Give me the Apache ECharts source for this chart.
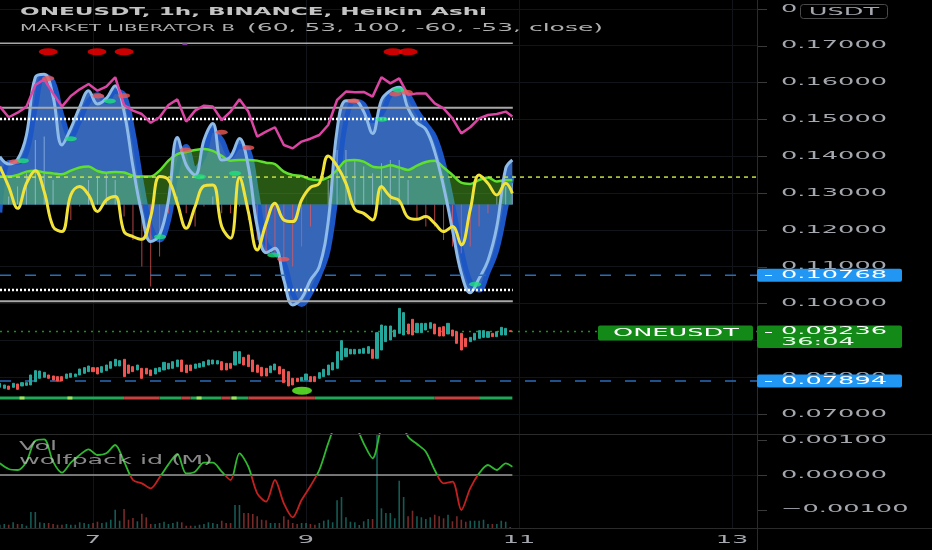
<!DOCTYPE html>
<html>
<head>
<meta charset="utf-8">
<title>ONEUSDT 1h</title>
<script src="https://cdn.jsdelivr.net/npm/echarts@6.0.0/dist/echarts.min.js"></script>
<style>
html,body{margin:0;padding:0;background:#000;overflow:hidden;}
#chart{width:932px;height:550px;}
</style>
</head>
<body>
<div id="chart"></div>
<script>
// ================= DATA =================
// hourly Heikin Ashi candles, first one at hour -21 (hours counted from day 7, 00:00)
const candleStartHour = -21;
const haOpen = [0.07724,0.07697,0.07760,0.07724,0.07815,0.07760,0.07778,0.07788,0.07878,0.07968,
  0.07996,0.08059,0.08032,0.08014,0.08014,0.07968,0.07996,0.08014,0.08059,0.08104,
  0.08149,0.08258,0.08258,0.08131,0.08176,0.08240,0.08303,0.08303,0.08484,0.08330,
  0.08285,0.08195,0.08240,0.08240,0.08195,0.08086,0.08149,0.08195,0.08222,0.08240,
  0.08285,0.08466,0.08330,0.08330,0.08240,0.08267,0.08285,0.08330,0.08357,0.08357,
  0.08420,0.08375,0.08375,0.08330,0.08375,0.08538,0.08602,0.08466,0.08330,0.08267,
  0.08240,0.08122,0.08195,0.08285,0.08213,0.08149,0.07968,0.07968,0.07905,0.07923,
  0.08014,0.08014,0.07968,0.08014,0.08059,0.08195,0.08240,0.08466,0.08556,0.08629,
  0.08629,0.08647,0.08647,0.08647,0.08755,0.08511,0.08737,0.08963,0.09009,0.09099,
  0.09190,0.09144,0.09443,0.09570,0.09208,0.09208,0.09280,0.09325,0.09443,0.09353,
  0.09371,0.09172,0.09280,0.09235,0.09190,0.09054,0.08963,0.09009,0.09054,0.09081,
  0.09081,0.09190,0.09099,0.09144,0.09144,0.09262];
const haClose = [0.07833,0.07788,0.07670,0.07833,0.07670,0.07851,0.07851,0.08059,0.08176,0.08167,
  0.08131,0.07968,0.07923,0.07896,0.07896,0.08086,0.08104,0.08086,0.08222,0.08258,
  0.08303,0.08149,0.08086,0.08285,0.08330,0.08420,0.08484,0.08448,0.08014,0.08104,
  0.08149,0.08330,0.07968,0.08086,0.08041,0.08240,0.08258,0.08402,0.08375,0.08420,
  0.08466,0.08149,0.08122,0.08176,0.08357,0.08375,0.08420,0.08466,0.08466,0.08448,
  0.08195,0.08195,0.08240,0.08692,0.08692,0.08330,0.08285,0.08149,0.08131,0.08032,
  0.08032,0.08303,0.08357,0.08086,0.07851,0.07760,0.07788,0.07878,0.07996,0.08086,
  0.07878,0.07878,0.08122,0.08213,0.08330,0.08394,0.08692,0.08991,0.08783,0.08755,
  0.08755,0.08755,0.08783,0.08828,0.08511,0.09208,0.09416,0.09389,0.09389,0.09280,
  0.09868,0.09751,0.09172,0.09144,0.09461,0.09461,0.09461,0.09479,0.09172,0.09117,
  0.09117,0.09461,0.09117,0.08918,0.08737,0.08828,0.09081,0.09190,0.09262,0.09262,
  0.09235,0.09099,0.09235,0.09353,0.09325,0.09236];
const volume = [33,40,33,57,40,40,23,160,160,57,50,50,40,33,33,40,33,33,57,50,
  40,50,63,50,57,83,183,73,190,83,100,67,143,107,40,40,50,63,40,50,
  63,57,23,23,23,33,40,57,50,40,73,50,50,230,230,150,150,140,117,83,
  77,50,50,50,117,83,50,40,50,50,40,33,50,73,83,57,277,310,107,63,
  57,30,67,90,90,933,197,150,150,97,473,310,117,173,117,107,90,107,133,117,
  97,133,67,117,83,63,73,73,73,83,40,40,40,73,63,10];

// indicator samples every 2 hours from hour -21, plus a last sample at hour 94.5
const sampleStartHour = -21;
const sampleStepHours = 2;
const lastSampleHour = 94.5;
const liberatorPink = [60.7,54.1,56.9,60.7,74.1,77.6,68.9,60.7,67.3,71.4,74.7,70.6,73.1,78.9,61.7,58.2,56.1,50.7,54.1,61.7,
  65.2,51.4,58.2,61.3,60.7,52.4,57.6,65.2,57.6,42.1,45.2,47.9,36.9,34.8,39.0,40.8,43.1,49.3,64.8,70.0,
  69.6,69.8,66.9,78.9,75.1,78.2,67.9,68.9,68.9,62.7,59.6,53.4,44.1,47.9,53.4,55.5,56.1,57.6,54.5];
const liberatorYellow = [23.5,11.1,-2.4,13.1,21.0,8.0,-13.7,-16.8,5.9,11.1,5.9,-4.4,2.8,4.9,-16.8,-19.9,-21.6,-7.5,17.3,15.2,
  0.7,-14.8,-1.3,11.5,12.1,-13.7,-21.0,16.8,-4.4,-28.2,-11.7,0.7,-9.6,-10.6,2.8,10.6,13.1,30.1,23.9,13.1,
  -3.0,-5.5,-9.6,11.1,4.9,2.4,-8.0,-9.2,-7.5,-11.7,-16.8,-13.7,-25.1,-3.4,18.3,13.1,5.9,13.1,6.9];
const liberatorGreen = [17.3,17.3,18.3,20.4,21.0,19.9,19.3,18.7,21.0,23.0,23.5,20.8,19.7,20.2,19.9,17.9,17.3,17.3,21.0,27.2,
  31.3,32.6,33.8,34.4,33.2,30.1,27.2,27.6,27.6,27.2,25.9,25.1,20.4,18.3,17.7,15.6,15.2,16.8,21.4,27.2,
  27.6,26.6,23.5,23.0,24.3,23.0,21.4,24.1,26.4,27.2,23.0,18.3,13.5,12.7,15.2,16.8,14.2,15.2,15.2];
const liberatorLightBlue = [29.7,25.1,28.0,43.1,78.9,80.7,66.9,36.9,47.2,60.3,70.6,62.3,65.8,73.7,57.6,23.5,-5.5,-23.0,-18.9,2.8,
  41.6,24.5,18.3,40.0,50.3,27.6,29.7,41.0,23.5,-13.7,-29.9,-27.2,-46.8,-62.3,-58.2,-46.8,-38.5,-10.6,46.2,64.4,
  64.4,57.6,44.1,64.8,70.6,72.7,59.6,50.7,46.6,32.8,11.1,-15.8,-42.7,-54.7,-45.8,-34.8,-13.7,22.4,27.6];
const liberatorDarkBlue = [-5,26,26,32,60,80,76,55,42,52,64,68,64,70,68,45,12,-14,-22,-10,
  22,36,22,30,46,40,30,36,34,5,-24,-30,-36,-55,-62,-55,-44,-28,10,52,
  64,62,52,56,68,72,68,58,50,42,25,0,-28,-48,-53,-42,-28,-2,18];
const liberatorHistogram = [0,4.9,11.1,19.3,40.0,42.1,15.2,0,-9.6,-1.3,15.2,17.3,19.3,15.2,-7.5,-22.0,-38.5,-50.9,-32.3,-5.5,
  4.9,-5.5,-13.7,-1.3,4.9,-5.5,-5.5,-1.3,-9.6,-22.0,-30.3,-30.3,-34.4,-38.5,-26.1,-13.7,0,15.2,33.8,33.8,
  27.6,23.5,19.3,25.5,27.6,27.6,15.2,-9.6,-13.7,-13.7,-22.0,-26.1,-30.3,-26.1,-13.7,-5.5,4.9,11.1,13.1];
const wolfpack = [0.000338,0.000174,0.000145,0.000386,0.000995,0.001034,0.000386,0.000068,0.000357,0.000580,
  0.000744,0.000580,0.000628,0.000870,0.000386,-0.000145,-0.000242,-0.000386,-0.000068,0.000309,
  0.000609,0.000048,0.000097,0.000357,0.000357,0.000097,-0.000145,0.000628,0.000242,-0.000531,
  -0.000773,-0.000145,-0.000821,-0.001227,-0.000725,-0.000319,0.000145,0.000918,0.001594,0.001884,
  0.001498,0.000918,0.000483,0.001401,0.001981,0.001691,0.001111,0.000899,0.000676,0.000145,
  -0.000242,-0.000193,-0.001014,-0.000386,0.000048,0.000290,0.000145,0.000338,0.000242];

const levelsGray = [100, 60, -60];
const levelsDotted = [53, -53];
const levelDashed = 17;
const levelEndHour = 94.6;

const smallRedDots = [[-17.6,26.5],[-10.1,78.2],[1.2,67.3],[7.0,67.5],[20.9,33.8],[29.0,44.8],[35.0,35.2],[42.9,-34.0],[58.7,64.2],[68.1,68.5],[70.7,69.6]];
const smallGreenDots = [[-15.8,27.2],[-5.0,40.8],[3.8,64.2],[15.1,-20.0],[24.1,17.2],[32.0,19.3],[40.6,-31.3],[65.1,52.8],[68.8,71.0],[86.1,-49.5]];
const bigRedDots = [[-10.1,94.7],[0.9,94.7],[7.0,94.7],[67.6,94.7],[71.0,94.7]];
const purpleMarks = [[20.7,99.5]];

const statusRuns = [[-21,7,1],[7,15,-1],[15,20,1],[20,22,-1],[22,29,1],[29,31,-1],[31,35,1],[35,50,-1],[50,77,1],[77,87,-1],[87,94.5,1]];
const statusLevel = 0.07434;
const statusDotHours = [-16, -5.2, 23.9, 31.8];
const signalDot = [[47.1, 0.07633]];

const lastPrice = 0.09236;
const priceLevels = [0.10768, 0.07894];
const symbolName = 'ONEUSDT';
const countdown = '36:04';

const priceTicks = [0.18,0.17,0.16,0.15,0.14,0.13,0.12,0.11,0.10,0.09,0.08,0.07];
const oscTicks = [0.001, 0, -0.001];
const dayTickHours = [0, 48, 96, 144];
const dayTickLabels = ['7', '9', '11', '13'];
const titleLine = 'ONEUSDT, 1h, BINANCE, Heikin Ashi';
const indicatorName = 'MARKET LIBERATOR B';
const indicatorParams = '(60, 53, 100, -60, -53, close)';
const paneTexts = ['Vol', 'wolfpack id (M)'];
const currencyText = 'USDT';

// ================= LAYOUT =================
const X_MIN = -20.96, X_MAX = 149.63;
const PRICE_MIN = 0.06457, PRICE_MAX = 0.18238;
const IND_MIN = -142.3, IND_MAX = 126.8;
const OSC_MIN = -0.0015362, OSC_MAX = 0.0011884;
const VOL_MAX = 940;
const UP = '#26a69a', DOWN = '#ef5350';
const PANE2_TOP = 434, PANE2_H = 94;

function sampleHour(k, n) { return k === n - 1 ? lastSampleHour : sampleStartHour + sampleStepHours * k; }
function samples(arr) { return arr.map((v, k) => [sampleHour(k, arr.length), v]); }

const candles = haOpen.map((o, i) => {
  const c = haClose[i];
  return [candleStartHour + i, o, c, Math.min(o, c), Math.max(o, c)];
});
const volData = volume.map((v, i) => ({
  value: [candleStartHour + i, v],
  itemStyle: { color: haClose[i] >= haOpen[i] ? 'rgba(38,166,154,0.55)' : 'rgba(239,83,80,0.5)' }
}));
const histData = samples(liberatorHistogram).map(p => ({
  value: p,
  itemStyle: { color: p[1] >= 0 ? 'rgba(190,215,255,0.55)' : 'rgba(235,90,90,0.75)' }
}));

function levelLine(xIdx, yIdx, v, x0, x1, color, width, type, z) {
  return { type: 'line', xAxisIndex: xIdx, yAxisIndex: yIdx, data: [[x0, v], [x1, v]], symbol: 'none',
    silent: true, z: z, lineStyle: { color: color, width: width, type: type } };
}

const zeroFrac = (OSC_MAX - 0) / (OSC_MAX - OSC_MIN);
const wolfGradient = new echarts.graphic.LinearGradient(0, PANE2_TOP, 0, PANE2_TOP + PANE2_H, [
  { offset: 0, color: '#2fb82f' }, { offset: zeroFrac, color: '#2fb82f' },
  { offset: zeroFrac, color: '#c42020' }, { offset: 1, color: '#c42020' }
], true);

const series = [];
series.push({ type: 'line', xAxisIndex: 0, yAxisIndex: 0, data: [], silent: true,
  markLine: { silent: true, symbol: ['none', 'none'], z: 1, label: { show: false },
    lineStyle: { color: '#111418', width: 1, type: 'solid' },
    data: priceTicks.map(v => ({ yAxis: v })).concat(dayTickHours.map(h => ({ xAxis: h }))) } });
series.push({ type: 'line', xAxisIndex: 1, yAxisIndex: 2, data: [], silent: true,
  markLine: { silent: true, symbol: ['none', 'none'], z: 1, label: { show: false },
    lineStyle: { color: '#111418', width: 1, type: 'solid' },
    data: oscTicks.map(v => ({ yAxis: v })).concat(dayTickHours.map(h => ({ xAxis: h }))) } });
series.push({ type: 'line', xAxisIndex: 0, yAxisIndex: 1, data: samples(liberatorLightBlue), smooth: 0.4, symbol: 'none', silent: true, z: 2,
  lineStyle: { width: 0 }, areaStyle: { color: '#3566b8', opacity: 1 } });
series.push({ type: 'line', xAxisIndex: 0, yAxisIndex: 1, data: samples(liberatorDarkBlue), smooth: 0.4, symbol: 'none', silent: true, z: 2,
  lineStyle: { color: '#1d57c6', width: 5 }, areaStyle: { color: '#3566b8', opacity: 1 } });
series.push({ type: 'line', xAxisIndex: 0, yAxisIndex: 1, data: samples(liberatorGreen), smooth: 0.3, symbol: 'none', silent: true, z: 3,
  lineStyle: { color: '#5fe02c', width: 2.5 }, areaStyle: { color: 'rgba(95,205,45,0.42)', opacity: 1 } });
series.push({ type: 'bar', xAxisIndex: 0, yAxisIndex: 1, data: histData, barWidth: 1, silent: true, z: 3 });
series.push({ type: 'line', xAxisIndex: 0, yAxisIndex: 1, data: samples(liberatorLightBlue), smooth: 0.4, symbol: 'none', silent: true, z: 4,
  lineStyle: { color: '#8fbbe8', width: 3 } });
levelsGray.forEach(v => series.push(levelLine(0, 1, v, X_MIN, levelEndHour, '#a8a8a8', v === 100 ? 1.5 : 2, 'solid', 4)));
levelsDotted.forEach(v => series.push(levelLine(0, 1, v, X_MIN, levelEndHour, '#ffffff', 2.5, [2, 2], 4)));
series.push(levelLine(0, 1, levelDashed, X_MIN, X_MAX, '#c8e040', 1.5, [4, 4], 4));
series.push({ type: 'line', xAxisIndex: 0, yAxisIndex: 1, data: samples(liberatorPink), symbol: 'none', silent: true, z: 5,
  lineStyle: { color: '#db45a3', width: 2.5 } });
series.push({ type: 'line', xAxisIndex: 0, yAxisIndex: 1, data: samples(liberatorYellow), smooth: 0.4, symbol: 'none', silent: true, z: 5,
  lineStyle: { color: '#f2e33a', width: 3 } });
series.push({ type: 'scatter', xAxisIndex: 0, yAxisIndex: 1, data: smallRedDots, symbol: 'circle', symbolSize: [12, 5], silent: true, z: 6,
  itemStyle: { color: '#f05a55' } });
series.push({ type: 'scatter', xAxisIndex: 0, yAxisIndex: 1, data: smallGreenDots, symbol: 'circle', symbolSize: [12, 5], silent: true, z: 6,
  itemStyle: { color: '#1fe07a' } });
series.push({ type: 'scatter', xAxisIndex: 0, yAxisIndex: 1, data: bigRedDots, symbol: 'circle', symbolSize: [19, 7], silent: true, z: 6,
  itemStyle: { color: '#ff0000' } });
series.push({ type: 'scatter', xAxisIndex: 0, yAxisIndex: 1, data: purpleMarks, symbol: 'rect', symbolSize: [5, 2], silent: true, z: 6,
  itemStyle: { color: '#9c3fc0' } });
series.push(levelLine(0, 0, priceLevels[0], X_MIN, X_MAX, '#2b6cb8', 1.5, [11, 14], 4));
series.push(levelLine(0, 0, priceLevels[1], X_MIN, X_MAX, '#2b6cb8', 1.5, [11, 14], 4));
series.push(levelLine(0, 0, lastPrice, X_MIN, X_MAX, '#1a8f1a', 1.5, [2, 5], 4));
series.push({ type: 'candlestick', xAxisIndex: 0, yAxisIndex: 0, data: candles, encode: { x: 0, y: [1, 2, 3, 4] },
  barWidth: 2.6, silent: true, z: 5,
  itemStyle: { color: UP, color0: DOWN, borderColor: UP, borderColor0: DOWN, borderWidth: 1 } });
series.push({ type: 'custom', xAxisIndex: 0, yAxisIndex: 0, silent: true, z: 5,
  data: statusRuns.map(r => [r[0], r[1], statusLevel, r[2]]),
  encode: { x: [0, 1], y: 2 },
  renderItem: function (params, api) {
    const a = api.coord([api.value(0), api.value(2)]);
    const b = api.coord([api.value(1), api.value(2)]);
    return { type: 'rect', shape: { x: a[0], y: a[1] - 1.5, width: b[0] - a[0], height: 3 },
      style: { fill: api.value(3) > 0 ? '#1fa855' : '#c9413f' } };
  } });
series.push({ type: 'scatter', xAxisIndex: 0, yAxisIndex: 0, data: statusDotHours.map(h => [h, statusLevel]),
  symbol: 'rect', symbolSize: [5, 3], silent: true, z: 6, itemStyle: { color: '#c8f060' } });
series.push({ type: 'scatter', xAxisIndex: 0, yAxisIndex: 0, data: signalDot, symbol: 'circle', symbolSize: [20, 8], silent: true, z: 6,
  itemStyle: { color: '#66ff2e' } });
series.push({ type: 'bar', xAxisIndex: 1, yAxisIndex: 3, data: volData, barWidth: 1.6, silent: true, z: 2 });
series.push(levelLine(1, 2, 0, X_MIN, lastSampleHour, '#9a9a9a', 1.5, 'solid', 3));
series.push({ type: 'line', xAxisIndex: 1, yAxisIndex: 2, data: samples(wolfpack), smooth: 0.3, symbol: 'none', silent: true, z: 4,
  lineStyle: { width: 1.8, color: wolfGradient } });

const option = {
  backgroundColor: '#000',
  animation: false,
  grid: [
    { left: 0, top: 0, width: 757, height: 434, show: false },
    { left: 0, top: PANE2_TOP, width: 757, height: PANE2_H, show: false }
  ],
  xAxis: [
    { type: 'value', gridIndex: 0, min: X_MIN, max: X_MAX, show: false },
    { type: 'value', gridIndex: 1, min: X_MIN, max: X_MAX, show: false }
  ],
  yAxis: [
    { type: 'value', gridIndex: 0, min: PRICE_MIN, max: PRICE_MAX, show: false },
    { type: 'value', gridIndex: 0, min: IND_MIN, max: IND_MAX, show: false },
    { type: 'value', gridIndex: 1, min: OSC_MIN, max: OSC_MAX, show: false },
    { type: 'value', gridIndex: 1, min: 0, max: VOL_MAX, show: false }
  ],
  series: series
};

const chart = echarts.init(document.getElementById('chart'), null, { renderer: 'canvas' });
chart.setOption(option);

// ================= TEXT / AXIS DECORATION =================
const mctx = document.createElement('canvas').getContext('2d');
function textW(str, font) { mctx.font = font; return mctx.measureText(str).width; }
function sText(str, font, fill, left, cy, scaleX, z) {
  return { type: 'text', x: left, y: cy, scaleX: scaleX, scaleY: 1, z: z || 100, silent: true,
    style: { text: str, font: font, fill: fill, x: 0, y: 0, align: 'left', verticalAlign: 'middle', textAlign: 'left', textVerticalAlign: 'middle' } };
}
function hLine(x1, y, x2, color, z) {
  return { type: 'line', silent: true, z: z || 90, shape: { x1: x1, y1: y, x2: x2, y2: y }, style: { stroke: color, lineWidth: 1 } };
}
const AX_FONT = "10.5px 'DejaVu Sans'";
const axScale = 106 / textW('0.17000', AX_FONT);
const AX_COLOR = '#a4a7ae';
const AX_X = 781;
const g = [];

g.push(hLine(0, 434.5, 932, '#2b2b2b', 95));
g.push(hLine(0, 528.5, 932, '#2b2b2b', 95));
g.push({ type: 'line', silent: true, z: 95, shape: { x1: 757.5, y1: 0, x2: 757.5, y2: 550 }, style: { stroke: '#2b2b2b', lineWidth: 1 } });

priceTicks.forEach(v => {
  const y = chart.convertToPixel({ yAxisIndex: 0 }, v);
  g.push(hLine(757, Math.round(y) + 0.5, 767, '#3a3a3a'));
  g.push(sText(v.toFixed(5), AX_FONT, AX_COLOR, AX_X, y, axScale));
});
oscTicks.forEach(v => {
  const y = chart.convertToPixel({ yAxisIndex: 2 }, v);
  g.push(hLine(757, Math.round(y) + 0.5, 767, '#3a3a3a'));
  const s = v < 0 ? '\u2212' + Math.abs(v).toFixed(5) : v.toFixed(5);
  g.push(sText(s, AX_FONT, AX_COLOR, AX_X, y, axScale));
});
dayTickHours.forEach((h, i) => {
  const x = chart.convertToPixel({ xAxisIndex: 1 }, h);
  const w = textW(dayTickLabels[i], AX_FONT) * axScale;
  g.push(sText(dayTickLabels[i], AX_FONT, AX_COLOR, x - w / 2, 540, axScale));
});

g.push({ type: 'rect', silent: true, z: 110, shape: { x: 800.5, y: 4.5, width: 87, height: 14, r: 3 }, style: { fill: '#000', stroke: '#4a4a4a', lineWidth: 1 } });
(function () {
  const w = textW(currencyText, AX_FONT) * axScale;
  g.push(sText(currencyText, AX_FONT, AX_COLOR, 844 - w / 2, 12, axScale, 111));
})();

priceLevels.forEach(v => {
  const y = chart.convertToPixel({ yAxisIndex: 0 }, v);
  g.push({ type: 'rect', silent: true, z: 110, shape: { x: 757, y: y - 6.5, width: 145, height: 13, r: 2 }, style: { fill: '#2196f3' } });
  g.push(hLine(765, Math.round(y) + 0.5, 772, '#ffffff', 111));
  g.push(sText(v.toFixed(5), AX_FONT, '#ffffff', AX_X, y, axScale, 111));
});
(function () {
  const y = chart.convertToPixel({ yAxisIndex: 0 }, lastPrice);
  g.push({ type: 'rect', silent: true, z: 110, shape: { x: 757, y: y - 6, width: 145, height: 22.5, r: 2 }, style: { fill: '#138a17' } });
  g.push(hLine(765, Math.round(y) + 0.5, 772, '#ffffff', 111));
  g.push(sText(lastPrice.toFixed(5), AX_FONT, '#ffffff', AX_X, y, axScale, 111));
  g.push(sText(countdown, AX_FONT, '#e8ffe8', AX_X, y + 11, axScale, 111));
  g.push({ type: 'rect', silent: true, z: 110, shape: { x: 598, y: y - 6, width: 155, height: 15, r: 2 }, style: { fill: '#138a17' } });
  const w = textW(symbolName, AX_FONT) * axScale;
  g.push(sText(symbolName, AX_FONT, '#ffffff', 676 - w / 2, y + 1.5, axScale, 111));
})();

(function () {
  const f1 = "bold 11px 'DejaVu Sans'";
  g.push(sText(titleLine, f1, '#c4c4c4', 20, 12, 467 / textW(titleLine, f1), 120));
  const f2 = "8.5px 'DejaVu Sans'";
  g.push(sText(indicatorName, f2, '#b0b0b0', 20, 28.5, 215 / textW(indicatorName, f2), 120));
  const f3 = "10.5px 'DejaVu Sans'";
  g.push(sText(indicatorParams, f3, '#b0b0b0', 247, 28, 356 / textW(indicatorParams, f3), 120));
  const f4 = "11.5px 'DejaVu Sans'";
  const sc = 194 / textW(paneTexts[1], f4);
  g.push(sText(paneTexts[0], f4, 'rgba(190,190,190,0.72)', 19, 447, sc, 120));
  g.push(sText(paneTexts[1], f4, 'rgba(190,190,190,0.72)', 19, 461, sc, 120));
})();

chart.setOption({ graphic: { elements: g } });
</script>
</body>
</html>
